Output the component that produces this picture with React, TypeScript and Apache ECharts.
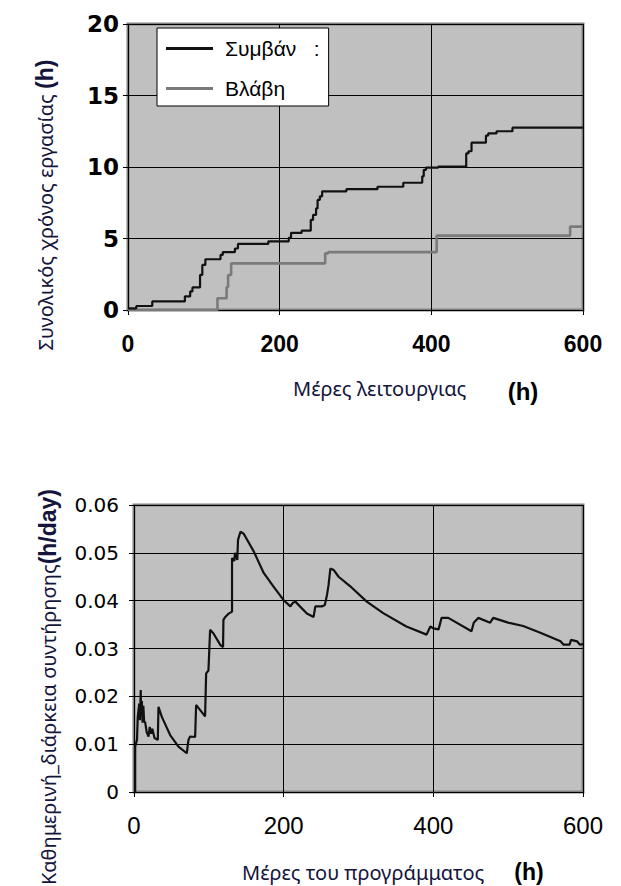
import React, { useEffect, useRef } from "react";
import * as echarts from "echarts";

// Top chart: cumulative working time (h) vs operating days — step series (value from that day on)
const incidentDays = [0, 11, 32, 75, 82, 85, 95, 98, 102, 122, 125, 141, 145, 185, 212, 215, 229, 241, 244, 248, 250, 253, 256, 288, 329, 363, 388, 390, 393, 409, 446, 449, 453, 472, 475, 486, 507, 600];
const incidentHours = [0.12, 0.28, 0.6, 0.95, 1.3, 1.58, 2.45, 3.15, 3.55, 3.85, 4.05, 4.3, 4.62, 4.8, 5.05, 5.4, 5.55, 6.3, 6.65, 7.1, 7.7, 7.95, 8.3, 8.45, 8.62, 8.9, 9.35, 9.8, 9.95, 10.02, 10.95, 11.1, 11.7, 12.2, 12.35, 12.5, 12.75, 12.77];
const failureDays = [0, 118, 130, 132, 136, 260, 264, 407, 583, 600];
const failureHours = [0, 0.82, 1.6, 2.45, 3.26, 3.96, 4.05, 5.2, 5.83, 5.83];

// Bottom chart: daily maintenance duration (h/day) vs programme days
const programDays = [1.6, 1.6, 4, 5, 6, 7, 8, 9, 9.5, 10.5, 11.5, 12.5, 13.5, 15, 17, 19.4, 21, 23, 24.5, 27.4, 31.8, 32.7, 37.2, 48.3, 59.4, 70.5, 72.8, 75, 81.7, 83, 95, 96.4, 99.5, 101.7, 106, 115.5, 119, 119.5, 122, 126.6, 131, 131, 134, 135, 138, 139, 142.2, 146.6, 160, 173.3, 186.7, 200, 209, 212, 215.6, 231, 240, 242.3, 251, 255, 257.9, 260, 262.4, 267, 273.4, 289, 311, 333, 364, 391, 396, 400, 407, 411, 420, 451, 454, 460, 476, 480, 500, 520, 543, 570, 574, 582, 584, 592, 596, 600];
const dailyDuration = [0, 0.0095, 0.0109, 0.0157, 0.017, 0.0185, 0.015, 0.0213, 0.016, 0.019, 0.0145, 0.018, 0.0148, 0.0145, 0.0125, 0.0116, 0.0136, 0.0122, 0.0132, 0.0113, 0.0109, 0.0178, 0.0157, 0.0119, 0.0095, 0.0081, 0.0109, 0.0116, 0.0115, 0.0182, 0.0158, 0.0248, 0.0254, 0.0339, 0.0332, 0.0307, 0.0303, 0.036, 0.0366, 0.0373, 0.0377, 0.0489, 0.0483, 0.05, 0.0485, 0.0527, 0.0544, 0.054, 0.0503, 0.0458, 0.0429, 0.0401, 0.0388, 0.0395, 0.0398, 0.0373, 0.0366, 0.0388, 0.0388, 0.0391, 0.0412, 0.0433, 0.0467, 0.0464, 0.045, 0.043, 0.0398, 0.0374, 0.0346, 0.0329, 0.0346, 0.0342, 0.034, 0.0364, 0.0364, 0.0336, 0.0354, 0.0364, 0.0354, 0.0364, 0.0354, 0.0347, 0.0333, 0.0315, 0.0308, 0.0308, 0.0318, 0.0315, 0.0308, 0.0309];

const seriesNames = ["Συμβάν", "Βλάβη"];
const topTitleY = "Συνολικός χρόνος εργασίας";
const bottomTitleY = "Καθημερινή_διάρκεια συντήρησης";
const topTitleX = "Μέρες λειτουργιας";
const bottomTitleX = "Μέρες του προγράμματος";

const zip = (xs: number[], ys: number[]) => xs.map((x, i) => [x, ys[i]]);

const TITLE_COLOR = "#14143c";
const GREEK_FONT = "'Noto Sans', 'DejaVu Sans', sans-serif";
const BOLD_FONT = "'Liberation Sans', Arial, sans-serif";

export default function App() {
  const ref = useRef<HTMLDivElement>(null);
  useEffect(() => {
    if (!ref.current) return;
    const chart = echarts.init(ref.current, undefined, { renderer: "svg" });
    const gridCommon = {
      show: true,
      backgroundColor: "#c0c0c0",
      borderColor: "#808080",
      borderWidth: 3,
      containLabel: false,
    };
    const splitLine = { show: true, lineStyle: { color: "#000", width: 1 } };
    const axisTick = { show: true, inside: false, length: 5, lineStyle: { color: "#000", width: 1 } };
    chart.setOption({
      animation: false,
      backgroundColor: "#fff",
      grid: [
        { ...gridCommon, left: 128, right: 38, top: 24, bottom: 576 },
        { ...gridCommon, left: 134, right: 38, top: 505, bottom: 94 },
      ],
      xAxis: [
        {
          gridIndex: 0, type: "value", min: 0, max: 600, interval: 200,
          axisLine: { show: false }, axisTick, splitLine,
          axisLabel: { margin: 22, color: "#000", fontSize: 23, fontWeight: "bold", fontFamily: BOLD_FONT },
        },
        {
          gridIndex: 1, type: "value", min: 0, max: 600, interval: 200,
          axisLine: { show: false }, axisTick, splitLine,
          axisLabel: { margin: 21, color: "#000", fontSize: 24, fontFamily: BOLD_FONT },
        },
      ],
      yAxis: [
        {
          gridIndex: 0, type: "value", min: 0, max: 20, interval: 5,
          axisLine: { show: false }, axisTick, splitLine,
          axisLabel: { margin: 9, color: "#000", fontSize: 23, fontWeight: "bold", fontFamily: "'DejaVu Sans', sans-serif" },
        },
        {
          gridIndex: 1, type: "value", min: 0, max: 0.06, interval: 0.01,
          axisLine: { show: false }, axisTick, splitLine,
          axisLabel: {
            margin: 15, color: "#000", fontSize: 20, fontFamily: "'DejaVu Sans', sans-serif",
            formatter: (v: number) => (v === 0 ? "0" : v.toFixed(2)),
          },
        },
      ],
      legend: {
        data: seriesNames,
        orient: "vertical",
        left: 157,
        top: 28,
        padding: [10, 9, 7, 9],
        itemGap: 19,
        itemWidth: 47,
        itemHeight: 3,
        icon: "rect",
        backgroundColor: "#fff",
        borderColor: "#000",
        borderWidth: 1,
        borderRadius: 0,
        formatter: (name: string) => (name === seriesNames[0] ? name + "   :" : name),
        textStyle: { fontSize: 21, color: "#000", fontFamily: BOLD_FONT, padding: [0, 0, 0, 7] },
      },
      series: [
        {
          name: seriesNames[0], type: "line", xAxisIndex: 0, yAxisIndex: 0, step: "end",
          showSymbol: false, symbol: "none", data: zip(incidentDays, incidentHours),
          lineStyle: { color: "#111", width: 2.2 }, itemStyle: { color: "#111" }, z: 3,
        },
        {
          name: seriesNames[1], type: "line", xAxisIndex: 0, yAxisIndex: 0, step: "end",
          showSymbol: false, symbol: "none", data: zip(failureDays, failureHours),
          lineStyle: { color: "#7a7a7a", width: 2.6 }, itemStyle: { color: "#7a7a7a" }, z: 2,
        },
        {
          name: "Ημερήσια", type: "line", xAxisIndex: 1, yAxisIndex: 1,
          showSymbol: false, symbol: "none", data: zip(programDays, dailyDuration),
          lineStyle: { color: "#111", width: 2.2 }, z: 3,
        },
      ],
      graphic: [
        {
          type: "text", x: 45, y: 205, rotation: Math.PI / 2,
          style: {
            text: "{a|" + topTitleY + " }{b|(h)}",
            align: "center", verticalAlign: "middle",
            rich: {
              a: { fontSize: 20, fontFamily: GREEK_FONT, fill: TITLE_COLOR },
              b: { fontSize: 23, fontWeight: "bold", fontFamily: BOLD_FONT, fill: TITLE_COLOR },
            },
          },
        },
        {
          type: "text", x: 48, y: 687, rotation: Math.PI / 2,
          style: {
            text: "{a|" + bottomTitleY + "}{b|(h/day)}",
            align: "center", verticalAlign: "middle",
            rich: {
              a: { fontSize: 20, fontFamily: GREEK_FONT, fill: TITLE_COLOR },
              b: { fontSize: 23, fontWeight: "bold", fontFamily: BOLD_FONT, fill: TITLE_COLOR },
            },
          },
        },
        {
          type: "text", x: 293, y: 388,
          style: { text: topTitleX, fontSize: 20, fontFamily: GREEK_FONT, fill: TITLE_COLOR, align: "left", verticalAlign: "middle" },
        },
        {
          type: "text", x: 523, y: 391,
          style: { text: "(h)", fontSize: 24, fontWeight: "bold", fontFamily: BOLD_FONT, fill: "#000", align: "center", verticalAlign: "middle" },
        },
        {
          type: "text", x: 242, y: 872,
          style: { text: bottomTitleX, fontSize: 20, fontFamily: GREEK_FONT, fill: TITLE_COLOR, align: "left", verticalAlign: "middle" },
        },
        {
          type: "text", x: 529, y: 872,
          style: { text: "(h)", fontSize: 23, fontWeight: "bold", fontFamily: BOLD_FONT, fill: "#000", align: "center", verticalAlign: "middle" },
        },
      ],
    });
    return () => chart.dispose();
  }, []);
  return (
    <div
      ref={ref}
      style={{ position: "absolute", left: 0, top: 0, width: 621, height: 886, background: "#fff" }}
    />
  );
}
